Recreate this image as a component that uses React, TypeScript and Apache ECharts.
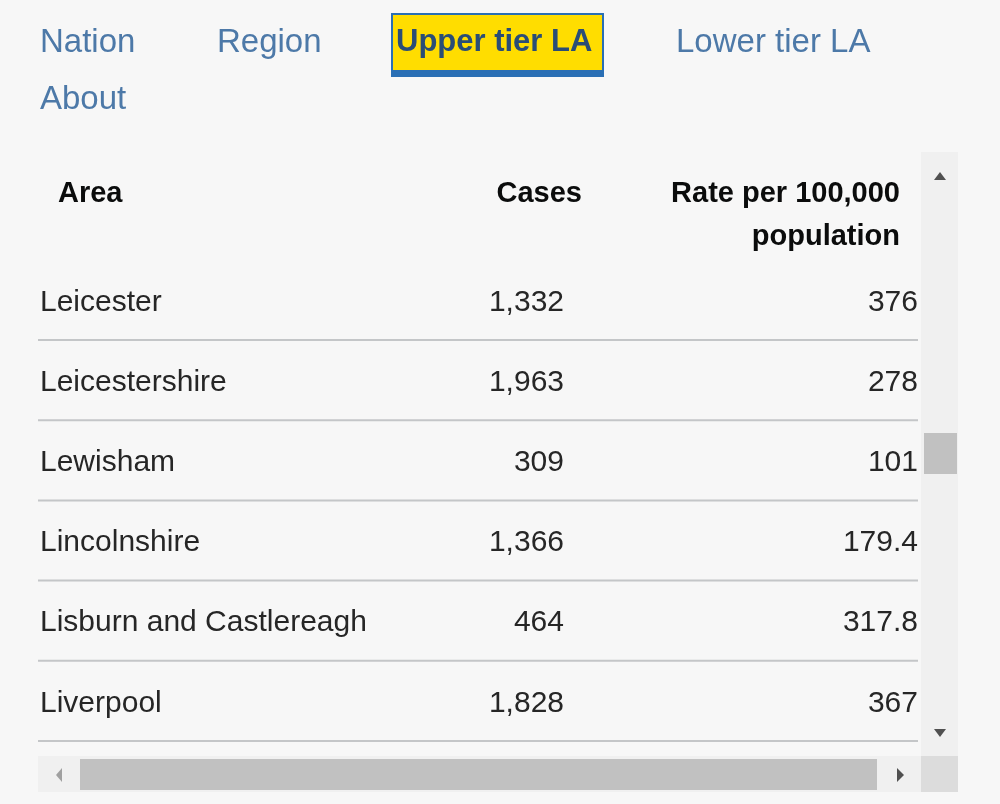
import React, { useEffect, useRef } from "react";
import * as echarts from "echarts";

const navItems = ["Nation", "Region", "Upper tier LA", "Lower tier LA", "About"];
const selectedNav = "Upper tier LA";
const headers = ["Area", "Cases", "Rate per 100,000\npopulation"];
const areas = ["Leicester", "Leicestershire", "Lewisham", "Lincolnshire", "Lisburn and Castlereagh", "Liverpool"];
const cases = [1332, 1963, 309, 1366, 464, 1828];
const rates = ["376", "278", "101", "179.4", "317.8", "367"];

const FONT = "'Liberation Sans', Arial, sans-serif";

export default function App() {
  const ref = useRef<HTMLDivElement>(null);
  useEffect(() => {
    const chart = echarts.init(ref.current!, null, { renderer: "svg" });
    const navPos = [
      { x: 40, y: 40 },
      { x: 217, y: 40 },
      { x: 396, y: 40 },
      { x: 676, y: 40 },
      { x: 40, y: 97 },
    ];
    const g: any[] = [];
    g.push({ type: "rect", shape: { x: 0, y: 0, width: 1000, height: 804 }, style: { fill: "#f7f7f7" }, silent: true });
    navItems.forEach((t, i) => {
      const sel = t === selectedNav;
      if (sel) {
        g.push({ type: "rect", shape: { x: 392, y: 14, width: 211, height: 62 }, style: { fill: "#ffdd00", stroke: "#2a6fb5", lineWidth: 2 } });
        g.push({ type: "rect", shape: { x: 392, y: 70, width: 211, height: 6 }, style: { fill: "#2a6fb5" } });
      }
      g.push({
        type: "text",
        x: navPos[i].x,
        y: navPos[i].y,
        style: {
          text: t,
          fontSize: sel ? 31 : 33,
          fontFamily: FONT,
          fontWeight: sel ? "bold" : "normal",
          fill: sel ? "#2a4d76" : "#4d79a8",
          verticalAlign: "middle",
          align: "left",
        },
      });
    });
    // header
    const hStyle = { fontSize: 29, fontWeight: "bold", fontFamily: FONT, fill: "#0b0c0c", verticalAlign: "middle" };
    g.push({ type: "text", x: 58, y: 192, style: { ...hStyle, text: headers[0] } });
    g.push({ type: "text", x: 582, y: 192, style: { ...hStyle, text: headers[1], align: "right" } });
    headers[2].split("\n").forEach((l, i) => {
      g.push({ type: "text", x: 900, y: 192 + i * 43, style: { ...hStyle, text: l, align: "right" } });
    });
    // rows
    const cStyle = { fontSize: 30, fontFamily: FONT, fill: "#262626", verticalAlign: "middle" };
    areas.forEach((a, i) => {
      const cy = 300 + i * 80.2;
      g.push({ type: "text", x: 40, y: cy, style: { ...cStyle, text: a } });
      g.push({ type: "text", x: 564, y: cy, style: { ...cStyle, text: cases[i].toLocaleString("en-GB"), align: "right" } });
      g.push({ type: "text", x: 918, y: cy, style: { ...cStyle, text: rates[i], align: "right" } });
      g.push({ type: "rect", shape: { x: 38, y: cy + 39, width: 880, height: 2 }, style: { fill: "#c4c6c8" } });
    });
    // vertical scrollbar
    g.push({ type: "rect", shape: { x: 921, y: 152, width: 37, height: 604 }, style: { fill: "#f0f0f0" } });
    g.push({ type: "rect", shape: { x: 924, y: 433, width: 33, height: 41 }, style: { fill: "#c1c1c1" } });
    g.push({ type: "polygon", shape: { points: [[934, 180], [946, 180], [940, 172]] }, style: { fill: "#505050" } });
    g.push({ type: "polygon", shape: { points: [[934, 729], [946, 729], [940, 737]] }, style: { fill: "#505050" } });
    // horizontal scrollbar
    g.push({ type: "rect", shape: { x: 38, y: 756, width: 883, height: 36 }, style: { fill: "#f0f0f0" } });
    g.push({ type: "rect", shape: { x: 80, y: 759, width: 797, height: 31 }, style: { fill: "#c1c1c1" } });
    g.push({ type: "polygon", shape: { points: [[62, 768], [62, 782], [56, 775]] }, style: { fill: "#a0a0a0" } });
    g.push({ type: "polygon", shape: { points: [[897, 768], [897, 782], [904, 775]] }, style: { fill: "#505050" } });
    g.push({ type: "rect", shape: { x: 921, y: 756, width: 37, height: 36 }, style: { fill: "#dcdcdc" } });

    chart.setOption({ animation: false, graphic: { elements: g } });
    return () => chart.dispose();
  }, []);
  return <div ref={ref} style={{ position: "fixed", left: 0, top: 0, width: 1000, height: 804 }} />;
}
